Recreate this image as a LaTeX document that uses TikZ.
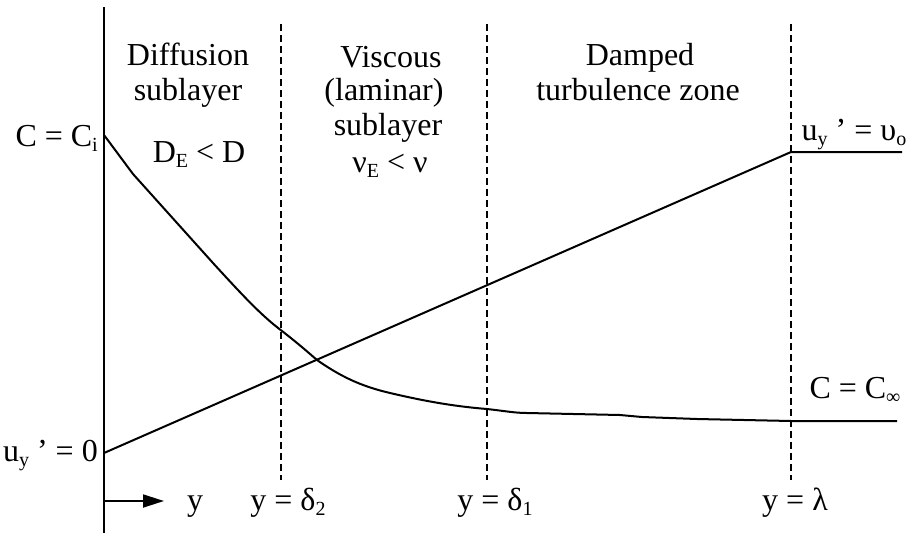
\documentclass[tikz,border=0pt]{standalone}
\usepackage{fontspec}
\setmainfont{Liberation Serif}
\usetikzlibrary{arrows.meta}
\newcommand\lowsub[1]{\raisebox{-0.35ex}{\fontsize{20}{20}\selectfont #1}}
\begin{document}
\begin{tikzpicture}[x=1pt,y=-1pt,
  lbl/.style={inner sep=0pt,anchor=base,font=\fontsize{32}{36}\selectfont},
  bound/.style={line width=2.8pt,dash pattern=on 7pt off 4pt},
  curve/.style={line width=2pt},
  axisline/.style={line width=2.8pt}]
\useasboundingbox (0,0) rectangle (908,533);
% axis
\coordinate (axtop) at (104,7);
\coordinate (axbot) at (104,533);
\draw[axisline] (axtop) -- (axbot);
% boundaries
\coordinate (d2t) at (281,24); \coordinate (d2b) at (281,480);
\coordinate (d1t) at (487,24); \coordinate (d1b) at (487,480);
\coordinate (lt) at (791,24); \coordinate (lb) at (791,480);
\draw[bound] (d2t) -- (d2b);
\draw[bound] (d1t) -- (d1b);
\draw[bound] (lt) -- (lb);
% velocity line
\coordinate (u0) at (104,453);
\coordinate (ul) at (791,152);
\coordinate (ue) at (902,152);
\draw[curve] (u0) -- (ul) -- (ue);
% concentration curve
\coordinate (ci) at (104,135);
\coordinate (cl) at (791,421);
\coordinate (ce) at (897,421);
\draw[curve] (ci) -- (133,174) -- (213,263)
  .. controls (245,298) and (262,316) .. (282,331)
  .. controls (300,345) and (310,354) .. (317,360)
  .. controls (340,376) and (360,386) .. (390,393)
  .. controls (420,400) and (450,406) .. (487,409)
  .. controls (505,411) and (515,413) .. (527,413)
  -- (620,415) -- (642,417) -- (697,419) -- (cl) -- (ce);
% arrow
\coordinate (ay0) at (104,501);
\coordinate (ay1) at (164,501);
\draw[line width=1.8pt,-{Triangle[length=21pt,width=13pt]}] (ay0) -- (ay1);
% labels
\node[lbl] (t1) at (188,65) {Diffusion};
\node[lbl] (t2) at (188,100) {sublayer};
\node[lbl] (t3) at (199,162) {D\lowsub{E} < D};
\node[lbl] (t4) at (391,67) {Viscous};
\node[lbl] (t5) at (384,100) {(laminar)};
\node[lbl] (t6) at (388,135) {sublayer};
\node[lbl] (t7) at (390,172) {ν\lowsub{E} < ν};
\node[lbl] (t8) at (640,65) {Damped};
\node[lbl] (t9) at (638,100) {turbulence zone};
\node[lbl] (t10) at (854,140) {u\lowsub{y} ’ = υ\lowsub{o}};
\node[lbl,anchor=base east] (t11) at (98,146) {C = C\lowsub{i}};
\node[lbl] (t12) at (855,398) {C = C\lowsub{∞}};
\node[lbl,anchor=base east] (t13) at (98,461) {u\lowsub{y} ’ = 0};
\node[lbl] (t14) at (195,510) {y};
\node[lbl] (t15) at (288,510) {y = δ\lowsub{2}};
\node[lbl] (t16) at (495,510) {y = δ\lowsub{1}};
\node[lbl] (t17) at (795,510) {y = λ};
\end{tikzpicture}
\end{document}
